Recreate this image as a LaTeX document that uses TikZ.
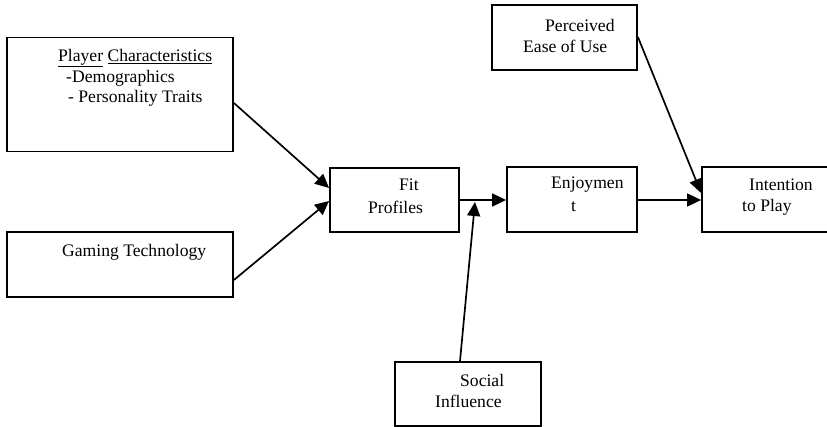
\documentclass[tikz,border=0pt]{standalone}
\usepackage{fontspec}
\setmainfont{Liberation Serif}
\usetikzlibrary{arrows.meta}

\begin{document}
\begin{tikzpicture}[x=1pt, y=-1pt, every node/.style={font=\fontsize{17.6}{20.5}\selectfont}]
  \tikzset{
      factor/.style={draw, line width=1.8pt, inner sep=0pt},
      txt/.style={anchor=west, inner sep=0pt},
      link/.style={line width=1.7pt, -{Triangle[length=14pt, width=13pt]}}
  }
  \useasboundingbox (0,0) rectangle (827,427);

  % boxes
  \node[factor, minimum width=226pt, minimum height=114pt] (player) at (120, 94.5)  {};
  \node[factor, minimum width=226pt, minimum height=65pt]  (gaming) at (120, 264.5) {};
  \node[factor, minimum width=129pt, minimum height=64pt]  (fit)    at (394.5, 200) {};
  \node[factor, minimum width=130pt, minimum height=65pt]  (enjoy)  at (572, 199.5) {};
  \node[factor, minimum width=130pt, minimum height=65pt]  (intent) at (767, 199.5) {};
  \node[factor, minimum width=145pt, minimum height=65pt]  (ease)   at (564.5, 37.5) {};
  \node[factor, minimum width=146pt, minimum height=64pt]  (social) at (468, 394)   {};

  % texts
  \node[txt] (t1) at (58, 58)  {\underline{Player} \underline{Characteristics}};
  \node[txt] (t2) at (66, 78)  {-Demographics};
  \node[txt] (t3) at (68, 98)  {- Personality Traits};
  \node[txt] (t4) at (62, 252) {Gaming Technology};
  \node[txt] (t5) at (399, 185) {Fit};
  \node[txt] (t6) at (368, 207) {Profiles};
  \node[txt] (t7) at (551, 185) {Enjoymen};
  \node[txt] (t8) at (571, 207) {t};
  \node[txt] (t9) at (749, 185) {Intention};
  \node[txt] (t10) at (742, 207) {to Play};
  \node[txt] (t11) at (545, 25) {Perceived};
  \node[txt] (t12) at (523, 46) {Ease of Use};
  \node[txt] (t13) at (460, 380) {Social};
  \node[txt] (t14) at (435, 401) {Influence};

  % arrows
  \coordinate (socin) at (475, 202);
  \draw[link] (player.east |- 0,103) -- (fit.west |- 0,188);
  \draw[link] (gaming.east |- 0,280) -- (fit.west |- 0,201);
  \draw[link] (fit.east |- 0,200) -- (enjoy.west |- 0,200);
  \draw[link] (social.north -| 460,0) -- (socin);
  \draw[link] (enjoy.east |- 0,200) -- (intent.west |- 0,200);
  \draw[link] (ease.east |- 0,37) -- (intent.west |- 0,193);
\end{tikzpicture}
\end{document}
